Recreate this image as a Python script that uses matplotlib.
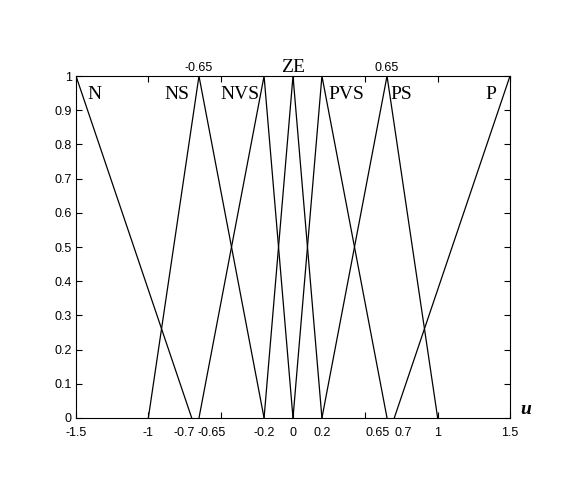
import matplotlib
matplotlib.use('Agg')
import matplotlib.pyplot as plt

# membership functions (breakpoints, degrees)
mf_names = ['N', 'NS', 'NVS', 'ZE', 'PVS', 'PS', 'P']
mf_x = [
    [-1.5, -0.7],
    [-1.0, -0.65, -0.2],
    [-0.65, -0.2, 0.0],
    [-0.2, 0.0, 0.2],
    [0.0, 0.2, 0.65],
    [0.2, 0.65, 1.0],
    [0.7, 1.5],
]
mf_y = [
    [1, 0],
    [0, 1, 0],
    [0, 1, 0],
    [0, 1, 0],
    [0, 1, 0],
    [0, 1, 0],
    [0, 1],
]
# where the names sit (x, y in data units)
name_pos = [(-1.37, 0.97), (-0.8, 0.97), (-0.37, 0.97), (0.0, 1.0),
            (0.37, 0.97), (0.75, 0.97), (1.37, 0.97)]

bottom_labels = [-1.5, -1, -0.7, -0.65, -0.2, 0, 0.2, 0.65, 0.7, 1, 1.5]
bottom_text = ['-1.5', '-1', '-0.7', '-0.65', '-0.2', '0', '0.2', '0.65', '0.7', '1', '1.5']
bottom_ha = ['center', 'center', 'right', 'left', 'center', 'center', 'center',
             'right', 'left', 'center', 'center']
top_labels = [-0.65, 0.65]
top_text = ['-0.65', '0.65']

fig = plt.figure(figsize=(5.68, 4.92), dpi=100)
ax = fig.add_axes([76 / 568, 74 / 492, 434 / 568, 342 / 492])

for xs, ys in zip(mf_x, mf_y):
    ax.plot(xs, ys, color='black', linewidth=0.9)

ax.set_xlim(-1.5, 1.5)
ax.set_ylim(0, 1)
ax.set_xticks([-1.5, -1, -0.5, 0, 0.5, 1, 1.5])
ax.set_xticklabels([])
ax.set_yticks([i / 10 for i in range(11)])
ax.set_yticklabels(['0', '0.1', '0.2', '0.3', '0.4', '0.5', '0.6', '0.7', '0.8', '0.9', '1'],
                   fontsize=9, family='Liberation Sans')
ax.tick_params(direction='in', top=True, right=True, length=4, width=0.8, pad=3)
for s in ax.spines.values():
    s.set_linewidth(0.8)

serif = 'Liberation Serif'
for name, (px, py) in zip(mf_names, name_pos):
    va = 'bottom' if name == 'ZE' else 'top'
    ax.text(px, py, name, ha='center', va=va, fontsize=14, family=serif)

for xv, t, ha in zip(bottom_labels, bottom_text, bottom_ha):
    shift = {'center': 0.0, 'right': 0.02, 'left': -0.01}[ha]
    if t == '0.7':
        shift = 0.0
    ax.text(xv + shift, -0.025, t, ha=ha, va='top', fontsize=9, family='Liberation Sans')
for xv, t in zip(top_labels, top_text):
    ax.text(xv, 1.005, t, ha='center', va='bottom', fontsize=9, family='Liberation Sans')

ax.text(1.57, 0.0, 'u', ha='left', va='bottom', fontsize=14, family=serif,
        style='italic', weight='bold', clip_on=False)

fig.savefig('out.png', dpi=100)
